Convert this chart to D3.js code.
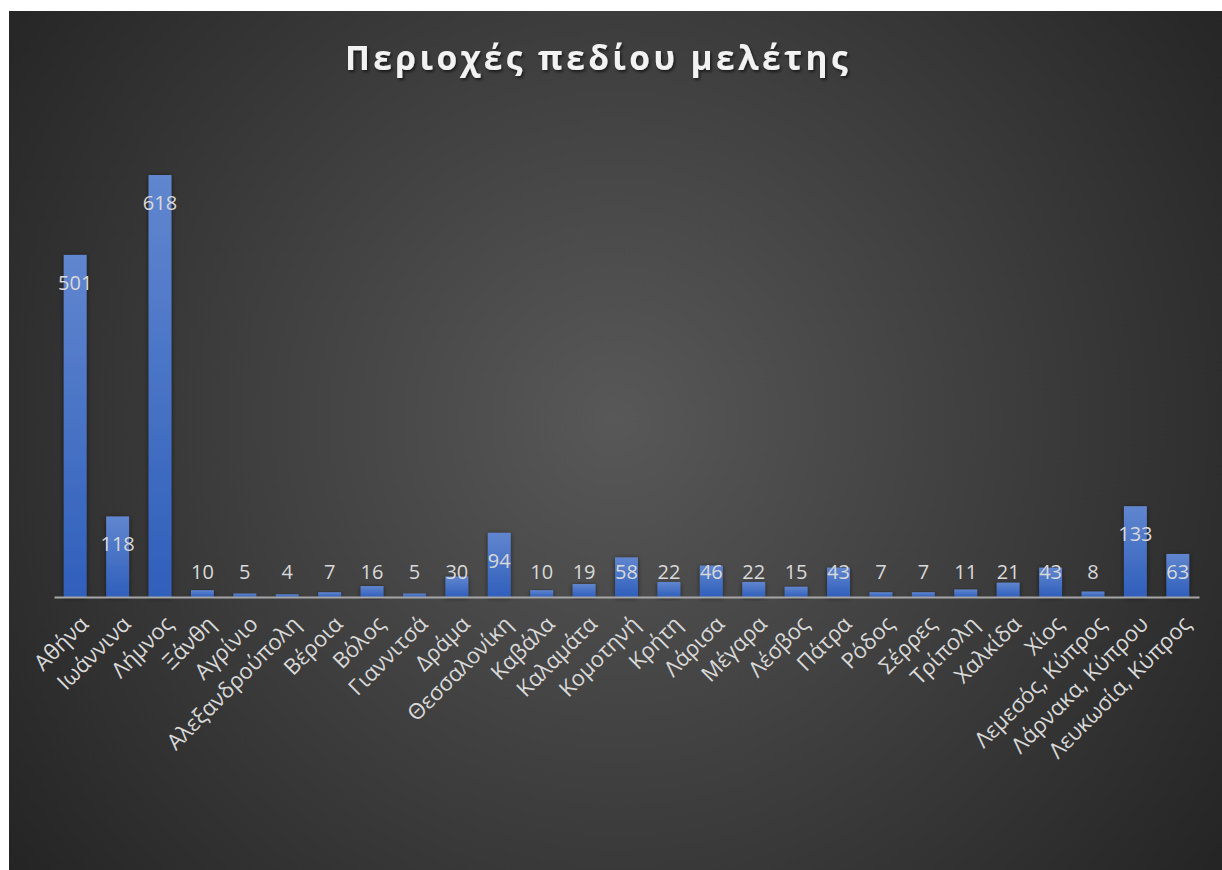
<!DOCTYPE html>
<html>
<head>
<meta charset="utf-8">
<script src="https://cdn.jsdelivr.net/npm/d3@7"></script>
<style>
  body { margin: 0; background: #fff; }
  svg { display: block; }
</style>
</head>
<body>
<div id="chart"></div>
<script>
var categories = ["Αθήνα", "Ιωάννινα", "Λήμνος", "Ξάνθη", "Αγρίνιο", "Αλεξανδρούπολη", "Βέροια",
  "Βόλος", "Γιαννιτσά", "Δράμα", "Θεσσαλονίκη", "Καβάλα", "Καλαμάτα", "Κομοτηνή", "Κρήτη",
  "Λάρισα", "Μέγαρα", "Λέσβος", "Πάτρα", "Ρόδος", "Σέρρες", "Τρίπολη", "Χαλκίδα", "Χίος",
  "Λεμεσός, Κύπρος", "Λάρνακα, Κύπρου", "Λευκωσία, Κύπρος"];
var values = [501, 118, 618, 10, 5, 4, 7, 16, 5, 30, 94, 10, 19, 58, 22, 46, 22, 15, 43, 7, 7, 11, 21, 43, 8, 133, 63];
var title = "Περιοχές πεδίου μελέτης";

var W = 1222, H = 870;
var svg = d3.select("#chart").append("svg").attr("width", W).attr("height", H);
var defs = svg.append("defs");

var bg = defs.append("radialGradient").attr("id", "bg")
  .attr("gradientUnits", "userSpaceOnUse")
  .attr("cx", 615).attr("cy", 420).attr("r", 760);
bg.append("stop").attr("offset", "0%").attr("stop-color", "#585858");
bg.append("stop").attr("offset", "100%").attr("stop-color", "#242424");

var barGrad = defs.append("linearGradient").attr("id", "bar")
  .attr("x1", 0).attr("y1", 0).attr("x2", 0).attr("y2", 1);
barGrad.append("stop").attr("offset", "0%").attr("stop-color", "#6186cf");
barGrad.append("stop").attr("offset", "100%").attr("stop-color", "#2f5fbb");

var sh = defs.append("filter").attr("id", "shadow")
  .attr("x", "-50%").attr("y", "-10%").attr("width", "200%").attr("height", "130%");
sh.append("feDropShadow").attr("dx", 0).attr("dy", 1).attr("stdDeviation", 2.5)
  .attr("flood-color", "#000").attr("flood-opacity", 0.55);

var tsh = defs.append("filter").attr("id", "tshadow");
tsh.append("feDropShadow").attr("dx", 1.5).attr("dy", 2).attr("stdDeviation", 1.5)
  .attr("flood-color", "#000").attr("flood-opacity", 0.6);

svg.append("rect").attr("x", 9).attr("y", 11).attr("width", W - 9).attr("height", H - 11)
  .attr("fill", "url(#bg)");

var baseline = 597;
var x = d3.scaleBand().domain(categories).range([54, 1199]).paddingInner(0.46).paddingOuter(0.23);
var y = d3.scaleLinear().domain([0, 618]).range([baseline, 175]);

svg.append("text")
  .attr("x", 598).attr("y", 70)
  .attr("text-anchor", "middle")
  .attr("font-family", "'Open Sans', sans-serif")
  .attr("font-weight", "bold")
  .attr("font-size", 33.5)
  .attr("letter-spacing", 3.4)
  .attr("fill", "#f2f2f2")
  .attr("filter", "url(#tshadow)")
  .text(title);

var data = categories.map(function(c, i) { return {name: c, value: values[i]}; });

svg.append("g").selectAll("rect")
  .data(data)
  .enter().append("rect")
    .attr("x", function(d) { return x(d.name); })
    .attr("y", function(d) { return y(d.value); })
    .attr("width", x.bandwidth())
    .attr("height", function(d) { return baseline - y(d.value); })
    .attr("fill", "url(#bar)")
    .attr("filter", "url(#shadow)");

// x axis
var xAxis = svg.append("g")
  .attr("transform", "translate(0," + baseline + ")")
  .call(d3.axisBottom(x).tickSize(0).tickSizeOuter(0));
xAxis.select(".domain").attr("stroke", "#a6a6a6").attr("stroke-width", 2);
xAxis.selectAll("text")
  .attr("font-family", "'Open Sans', sans-serif")
  .attr("font-size", 22)
  .attr("fill", "#d9d9d9")
  .attr("text-anchor", "end")
  .attr("dy", "0.35em")
  .attr("transform", "translate(9,23) rotate(-45)")
  .attr("y", 0).attr("x", 0);

// value labels
svg.append("g").selectAll("text")
  .data(data)
  .enter().append("text")
    .attr("x", function(d) { return x(d.name) + x.bandwidth() / 2; })
    .attr("y", function(d) { return Math.min(y(d.value) + 28, baseline - 25); })
    .attr("dy", "0.35em")
    .attr("text-anchor", "middle")
    .attr("font-family", "'Open Sans', sans-serif")
    .attr("font-size", 20)
    .attr("fill", "#d9d9d9")
    .text(function(d) { return d.value; });
</script>
</body>
</html>
